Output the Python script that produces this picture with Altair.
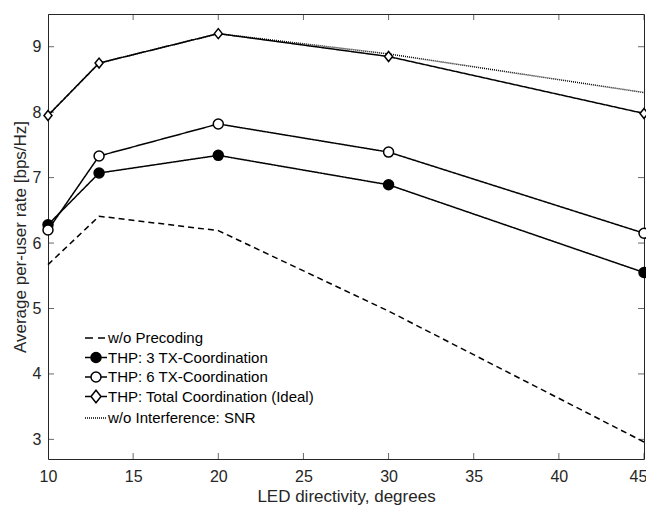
import altair as alt
import pandas as pd

# ---- data ----
x_deg = [10, 13, 20, 30, 45]
no_precoding = [5.67, 6.41, 6.19, 4.96, 2.96]
thp_3tx = [6.28, 7.07, 7.34, 6.89, 5.55]
thp_6tx = [6.20, 7.33, 7.82, 7.39, 6.15]
thp_total = [7.95, 8.75, 9.20, 8.85, 7.98]
snr = [7.95, 8.75, 9.20, 8.89, 8.30]

series_names = [
    "w/o Precoding",
    "THP: 3 TX-Coordination",
    "THP: 6 TX-Coordination",
    "THP: Total Coordination (Ideal)",
    "w/o Interference: SNR",
]
marker_series = series_names[1:4]
x_ticks = [10, 15, 20, 25, 30, 35, 40, 45]
y_ticks = [3, 4, 5, 6, 7, 8, 9]

values = [no_precoding, thp_3tx, thp_6tx, thp_total, snr]
rows = []
for order, (name, vals) in enumerate(zip(series_names, values)):
    for x, y in zip(x_deg, vals):
        rows.append({"series": name, "order": order, "x": x, "y": y})
df = pd.DataFrame(rows)
df_markers = df[df["series"].isin(marker_series)]
# legend-only rows, placed outside the plotted domain (clipped away)
df_leg = pd.DataFrame({"entry": series_names, "x": [0] * 5, "y": [0] * 5})
df_xt = pd.DataFrame({"x": x_ticks})
df_yt = pd.DataFrame({"y": y_ticks})

W, H = 596, 445
FONT = "Liberation Sans"
AX = "#262626"
XT = "LED directivity, degrees"
YT = "Average per-user rate [bps/Hz]"

xscale = alt.Scale(domain=[10, 45], nice=False, zero=False)
yscale = alt.Scale(domain=[2.7, 9.5], nice=False, zero=False)
xaxis = alt.Axis(values=x_ticks, grid=False, domain=False, ticks=False,
                 tickSize=0, labelPadding=9, titlePadding=4, labelFlush=False,
                 labelOffset={"condition": {"test": "datum.value == 45", "value": -6},
                              "value": 0},
                 title=XT)
yaxis = alt.Axis(values=y_ticks, grid=False, domain=False, ticks=False,
                 tickSize=0, labelPadding=7, titlePadding=3, labelFlush=False,
                 title=YT)


def X(field="x"):
    return alt.X(field + ":Q", scale=xscale, axis=xaxis, title=XT)


def Y(field="y"):
    return alt.Y(field + ":Q", scale=yscale, axis=yaxis, title=YT)


diamond = "M-0.8,0L0,-1L0.8,0L0,1Z"

# legend symbol paths (line sample + marker)
dash_path = "M-1.1,0L-0.3,0M0.2,0L0.9,0"
circ = "M-0.5,0A0.5,0.5,0,1,1,0.5,0A0.5,0.5,0,1,1,-0.5,0Z"
circ_path = "M-1.1,0L-0.5,0M0.5,0L1.1,0" + circ
diam_path = "M-1.1,0L-0.5,0M0.5,0L1.1,0M-0.5,0L0,-0.62L0.5,0L0,0.62Z"
dot_path = "".join(
    "M{:.2f},0L{:.2f},0".format(-1.1 + 0.2 * i, -1.0 + 0.2 * i) for i in range(11)
)

lines = alt.Chart(df).mark_line(color="black", strokeWidth=1.5).encode(
    x=X(), y=Y(),
    detail="series:N",
    order="order:Q",
    strokeDash=alt.StrokeDash(
        "series:N",
        scale=alt.Scale(domain=series_names,
                        range=[[6, 4], [1, 0], [1, 0], [1, 0], [1, 1]]),
        legend=None,
    ),
)

points = alt.Chart(df_markers).mark_point(stroke="black", strokeWidth=1.5, opacity=1).encode(
    x=X(), y=Y(),
    shape=alt.Shape("series:N", scale=alt.Scale(domain=marker_series,
                    range=["circle", "circle", diamond]), legend=None),
    fill=alt.Fill("series:N", scale=alt.Scale(domain=marker_series,
                  range=["black", "white", "white"]), legend=None),
    size=alt.Size("series:N", scale=alt.Scale(domain=marker_series,
                  range=[100, 100, 150]), legend=None),
)

leg = alt.Legend(
    title=None, orient="none", legendX=37, legendY=313, padding=0,
    symbolSize=400, symbolStrokeWidth=1.5,
    symbolOpacity=1, labelFont=FONT, labelFontSize=15, labelColor="black",
    labelOffset=1, rowPadding=0.5, labelLimit=400,
)

legend_layer = alt.Chart(df_leg).mark_point(strokeWidth=1.5, opacity=1, clip=True).encode(
    x=X(), y=Y(),
    shape=alt.Shape("entry:N", sort=series_names,
                    scale=alt.Scale(domain=series_names,
                                    range=[dash_path, circ_path, circ_path, diam_path, dot_path]),
                    legend=leg),
    fill=alt.Fill("entry:N", sort=series_names,
                  scale=alt.Scale(domain=series_names,
                                  range=["white", "black", "white", "white", "white"]),
                  legend=leg),
    stroke=alt.Stroke("entry:N", sort=series_names,
                      scale=alt.Scale(domain=series_names,
                                      range=["black"] * 5),
                      legend=leg),
)

tick_kw = dict(size=12, thickness=1, color=AX, clip=True)
xt_bottom = alt.Chart(df_xt).mark_tick(orient="vertical", **tick_kw).encode(
    x=X(), y=alt.value(H))
xt_top = alt.Chart(df_xt).mark_tick(orient="vertical", **tick_kw).encode(
    x=X(), y=alt.value(0))
yt_left = alt.Chart(df_yt).mark_tick(orient="horizontal", **tick_kw).encode(
    y=Y(), x=alt.value(0))
yt_right = alt.Chart(df_yt).mark_tick(orient="horizontal", **tick_kw).encode(
    y=Y(), x=alt.value(W))

chart = (
    alt.layer(xt_bottom, xt_top, yt_left, yt_right, lines, points, legend_layer)
    .resolve_scale(shape="independent", fill="independent", size="independent",
                   stroke="independent")
    .properties(
        width=W, height=H,
        autosize=alt.AutoSizeParams(type="none"),
        padding={"left": 40, "top": 6, "right": 2, "bottom": 46},
        background="white",
    )
    .configure_view(stroke=AX, strokeWidth=1)
    .configure_axis(
        labelFont=FONT, labelFontSize=16, labelColor=AX,
        titleFont=FONT, titleFontSize=17, titleColor=AX, titleFontWeight="normal",
    )
)

chart.save("out.html", embed_options={"renderer": "svg", "actions": False})
